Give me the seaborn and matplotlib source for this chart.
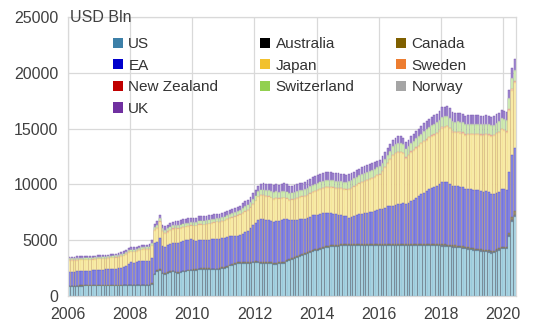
import matplotlib
matplotlib.use("Agg")
import matplotlib.pyplot as plt
import pandas as pd
import seaborn as sns
from matplotlib.patches import Patch

# ---------------- data (USD bn, monthly Jan-2006 .. May-2020) ----------------
start_year = 2006
n_months = 173

us = [
    830, 835, 840, 845, 850, 850, 855, 855, 860, 860, 865, 870,
    870, 870, 875, 875, 880, 880, 880, 880, 880, 885, 890, 890,
    890, 880, 880, 890, 890, 900, 900, 900, 1000, 1850, 2150, 2240,
    1950, 1900, 2000, 2100, 2150, 2050, 2000, 2050, 2150, 2150, 2200, 2230,
    2260, 2280, 2320, 2330, 2340, 2360, 2330, 2320, 2300, 2300, 2340, 2420,
    2450, 2550, 2650, 2700, 2760, 2850, 2870, 2870, 2850, 2850, 2850, 2930,
    2930, 2920, 2870, 2860, 2850, 2880, 2850, 2820, 2820, 2840, 2860, 2900,
    3010, 3100, 3200, 3320, 3400, 3480, 3560, 3650, 3720, 3840, 3950, 4010,
    4050, 4150, 4200, 4280, 4330, 4380, 4380, 4400, 4410, 4450, 4470, 4500,
    4490, 4490, 4480, 4480, 4480, 4500, 4480, 4480, 4490, 4480, 4490, 4480,
    4480, 4480, 4470, 4480, 4470, 4460, 4460, 4460, 4470, 4450, 4460, 4450,
    4480, 4480, 4480, 4480, 4480, 4460, 4460, 4460, 4460, 4460, 4450, 4440,
    4420, 4410, 4390, 4360, 4330, 4310, 4290, 4260, 4220, 4180, 4140, 4080,
    4040, 4020, 3990, 3960, 3930, 3900, 3880, 3800, 3840, 3950, 4050, 4170,
    4170, 4180, 5300, 6600, 7050]

australia = [
    50, 50, 50, 52, 52, 52, 53, 53, 53, 54, 54, 55,
    55, 55, 56, 56, 57, 57, 58, 58, 60, 60, 62, 65,
    65, 66, 66, 67, 68, 70, 70, 72, 80, 95, 90, 85,
    80, 78, 76, 75, 74, 74, 73, 72, 72, 72, 73, 74,
    74, 75, 75, 76, 76, 77, 77, 78, 78, 79, 79, 80,
    80, 81, 81, 82, 82, 83, 83, 84, 84, 85, 85, 86,
    86, 86, 87, 87, 88, 88, 89, 89, 90, 90, 91, 91,
    91, 92, 92, 93, 93, 94, 94, 95, 95, 96, 96, 97,
    97, 98, 98, 99, 99, 100, 100, 101, 101, 102, 102, 103,
    103, 104, 104, 105, 105, 106, 106, 107, 107, 108, 108, 109,
    109, 110, 110, 111, 111, 112, 112, 113, 113, 114, 114, 115,
    115, 116, 116, 117, 117, 118, 118, 119, 119, 120, 120, 121,
    121, 122, 122, 123, 123, 124, 124, 125, 125, 126, 126, 127,
    127, 127, 128, 128, 128, 129, 129, 129, 130, 130, 130, 131,
    131, 132, 150, 180, 200]

canada = [
    42, 42, 43, 43, 43, 44, 44, 44, 45, 45, 45, 46,
    46, 46, 47, 47, 47, 48, 48, 48, 49, 49, 50, 50,
    50, 50, 51, 51, 52, 52, 52, 53, 60, 70, 75, 72,
    65, 62, 60, 58, 57, 56, 56, 55, 55, 56, 57, 58,
    58, 59, 60, 61, 62, 63, 64, 65, 66, 67, 68, 69,
    70, 70, 71, 71, 72, 72, 73, 73, 74, 74, 75, 75,
    76, 76, 77, 77, 78, 78, 79, 79, 80, 80, 81, 81,
    81, 82, 82, 83, 83, 84, 84, 85, 85, 86, 86, 87,
    87, 87, 86, 86, 85, 85, 84, 84, 83, 82, 82, 81,
    80, 79, 79, 78, 78, 78, 79, 79, 80, 80, 81, 81,
    82, 82, 83, 83, 84, 84, 85, 85, 86, 86, 87, 87,
    88, 88, 89, 89, 90, 90, 91, 91, 92, 92, 93, 93,
    93, 93, 93, 92, 92, 92, 92, 91, 91, 91, 91, 90,
    90, 90, 90, 91, 91, 91, 92, 92, 92, 93, 93, 94,
    94, 95, 160, 280, 340]

ea = [
    1230, 1240, 1250, 1270, 1280, 1290, 1300, 1310, 1320, 1330, 1340, 1360,
    1380, 1390, 1400, 1420, 1440, 1450, 1470, 1500, 1550, 1600, 1700, 1850,
    2000, 2000, 2050, 2100, 2150, 2150, 2150, 2150, 2250, 2700, 2550, 2800,
    2400, 2350, 2400, 2450, 2500, 2600, 2650, 2650, 2650, 2700, 2700, 2750,
    2600, 2550, 2600, 2550, 2500, 2500, 2550, 2600, 2650, 2700, 2600, 2600,
    2600, 2600, 2550, 2500, 2450, 2400, 2450, 2550, 2700, 2850, 3050, 3300,
    3450, 3750, 3900, 3850, 3800, 3750, 3700, 3650, 3750, 3700, 3750, 3800,
    3700, 3500, 3400, 3300, 3250, 3200, 3150, 3100, 3100, 3100, 3100, 3100,
    3050, 3050, 3050, 3000, 2950, 2850, 2800, 2750, 2700, 2650, 2550, 2450,
    2350, 2400, 2500, 2600, 2650, 2700, 2750, 2800, 2850, 2900, 2950, 3050,
    3100, 3150, 3250, 3350, 3400, 3450, 3500, 3550, 3600, 3650, 3550, 3700,
    3850, 3950, 4100, 4250, 4450, 4600, 4750, 4950, 5050, 5100, 5200, 5400,
    5600, 5550, 5600, 5500, 5300, 5300, 5350, 5300, 5300, 5200, 5250, 5300,
    5250, 5250, 5250, 5200, 5200, 5250, 5200, 5150, 5100, 5100, 5050, 5150,
    5150, 5100, 5500, 5600, 5700]

japan = [
    1000, 990, 980, 970, 960, 950, 950, 945, 940, 940, 940, 940,
    920, 920, 930, 930, 940, 940, 950, 960, 970, 980, 990, 1010,
    910, 920, 930, 940, 950, 970, 980, 990, 1050, 1100, 1150, 1400,
    1200, 1150, 1150, 1150, 1170, 1190, 1180, 1180, 1170, 1160, 1150, 1150,
    1250, 1270, 1300, 1330, 1360, 1400, 1410, 1420, 1430, 1450, 1460, 1480,
    1490, 1520, 1560, 1620, 1700, 1750, 1770, 1790, 1800, 1800, 1800, 1800,
    1930, 2000, 2050, 2100, 2080, 2060, 2020, 2000, 1980, 1950, 1900, 1870,
    1780, 1760, 1800, 1850, 1900, 1930, 1950, 1970, 1990, 2000, 2020, 2050,
    2120, 2150, 2180, 2200, 2230, 2270, 2280, 2290, 2300, 2310, 2330, 2350,
    2500, 2530, 2580, 2620, 2680, 2750, 2780, 2820, 2860, 2900, 2950, 3000,
    3030, 3300, 3550, 3800, 4100, 4450, 4550, 4620, 4550, 4400, 4100, 4150,
    4300, 4350, 4400, 4420, 4450, 4520, 4500, 4520, 4550, 4600, 4650, 4680,
    4770, 4850, 4900, 4850, 4800, 4740, 4750, 4780, 4800, 4780, 4820, 4830,
    4920, 4950, 4980, 5000, 5020, 5040, 5080, 5120, 5150, 5200, 5250, 5300,
    5200, 5130, 5480, 5750, 5800]

sweden = [
    30, 30, 30, 30, 31, 31, 31, 31, 32, 32, 32, 33,
    33, 33, 33, 34, 34, 34, 35, 35, 35, 36, 36, 37,
    37, 38, 38, 39, 39, 40, 40, 42, 55, 75, 80, 78,
    85, 88, 90, 92, 90, 85, 80, 75, 70, 65, 60, 55,
    50, 50, 48, 47, 46, 46, 45, 45, 45, 46, 46, 47,
    47, 48, 48, 49, 49, 50, 50, 50, 51, 51, 52, 52,
    52, 53, 53, 54, 54, 55, 55, 56, 56, 57, 57, 58,
    58, 58, 59, 59, 60, 60, 60, 61, 61, 62, 62, 62,
    62, 62, 61, 61, 60, 60, 60, 59, 59, 58, 58, 58,
    60, 62, 64, 66, 68, 70, 72, 74, 76, 78, 80, 82,
    84, 85, 86, 87, 88, 89, 90, 90, 91, 91, 92, 92,
    93, 93, 94, 94, 95, 95, 96, 96, 97, 97, 98, 98,
    98, 98, 97, 97, 96, 96, 95, 95, 94, 94, 93, 93,
    92, 92, 91, 91, 90, 90, 89, 89, 88, 88, 88, 88,
    88, 89, 100, 110, 115]

new_zealand = [
    14, 14, 14, 14, 15, 15, 15, 15, 15, 15, 15, 15,
    15, 15, 15, 16, 16, 16, 16, 16, 16, 16, 16, 16,
    16, 16, 16, 16, 16, 16, 16, 16, 17, 18, 18, 18,
    18, 18, 18, 18, 18, 18, 18, 19, 19, 19, 19, 19,
    19, 19, 19, 19, 19, 19, 20, 20, 20, 20, 20, 20,
    20, 20, 20, 21, 21, 21, 21, 21, 21, 21, 22, 22,
    22, 22, 22, 22, 22, 22, 22, 23, 23, 23, 23, 23,
    23, 23, 23, 24, 24, 24, 24, 24, 24, 24, 24, 24,
    24, 24, 24, 25, 25, 25, 25, 25, 25, 25, 25, 25,
    25, 25, 25, 26, 26, 26, 26, 26, 26, 26, 26, 26,
    26, 27, 27, 27, 27, 27, 27, 27, 28, 28, 28, 28,
    28, 28, 28, 29, 29, 29, 29, 30, 30, 30, 30, 30,
    30, 30, 31, 31, 31, 30, 30, 30, 30, 30, 30, 30,
    30, 30, 30, 31, 31, 31, 31, 31, 31, 32, 32, 32,
    32, 32, 33, 35, 38]

switzerland = [
    115, 115, 116, 116, 117, 117, 118, 118, 118, 119, 119, 120,
    120, 121, 121, 122, 122, 123, 123, 124, 125, 126, 127, 128,
    130, 132, 134, 135, 136, 137, 138, 140, 150, 170, 180, 190,
    195, 200, 205, 210, 215, 220, 225, 228, 230, 232, 235, 240,
    240, 250, 260, 270, 290, 300, 280, 270, 265, 270, 275, 280,
    285, 290, 295, 300, 305, 310, 320, 380, 400, 390, 380, 380,
    385, 390, 400, 410, 440, 480, 500, 520, 530, 530, 540, 540,
    540, 535, 535, 530, 530, 525, 530, 535, 540, 545, 550, 550,
    550, 550, 555, 555, 555, 550, 550, 550, 545, 540, 540, 560,
    600, 620, 620, 630, 640, 640, 640, 640, 630, 630, 620, 620,
    620, 630, 640, 650, 660, 670, 680, 690, 700, 710, 700, 700,
    710, 720, 730, 740, 760, 780, 800, 810, 820, 830, 840, 850,
    860, 860, 850, 840, 830, 820, 820, 820, 810, 810, 800, 800,
    800, 800, 800, 810, 810, 820, 830, 840, 840, 850, 860, 870,
    880, 890, 900, 920, 930]

norway = [
    50, 50, 50, 50, 51, 51, 51, 51, 52, 52, 52, 52,
    52, 53, 53, 53, 54, 54, 55, 55, 55, 56, 56, 56,
    56, 57, 57, 57, 58, 58, 58, 59, 60, 62, 62, 62,
    62, 62, 62, 62, 62, 62, 63, 63, 63, 64, 64, 65,
    65, 65, 65, 65, 65, 65, 66, 66, 66, 66, 66, 66,
    66, 67, 67, 67, 68, 68, 68, 68, 69, 69, 70, 70,
    70, 71, 71, 72, 72, 72, 72, 73, 73, 74, 74, 74,
    75, 75, 75, 76, 76, 76, 77, 77, 77, 78, 78, 78,
    78, 79, 79, 79, 80, 80, 80, 80, 80, 80, 80, 80,
    80, 80, 80, 80, 80, 80, 81, 81, 81, 82, 82, 82,
    82, 82, 82, 83, 83, 83, 84, 84, 84, 85, 85, 86,
    86, 86, 87, 87, 88, 88, 88, 89, 89, 90, 90, 90,
    90, 90, 89, 89, 88, 88, 88, 88, 87, 87, 87, 87,
    87, 87, 88, 88, 88, 88, 88, 88, 88, 89, 89, 90,
    90, 90, 92, 94, 95]

uk = [
    150, 150, 150, 152, 152, 154, 155, 155, 156, 157, 158, 160,
    160, 162, 164, 165, 166, 168, 170, 172, 180, 185, 190, 200,
    200, 200, 205, 210, 210, 210, 210, 200, 280, 330, 350, 330,
    340, 330, 300, 310, 330, 340, 370, 380, 380, 380, 390, 390,
    390, 380, 380, 380, 370, 370, 380, 380, 385, 390, 390, 390,
    390, 390, 390, 390, 390, 390, 400, 410, 420, 450, 470, 480,
    500, 520, 540, 560, 570, 590, 610, 620, 630, 640, 650, 660,
    640, 620, 610, 620, 630, 630, 630, 650, 660, 670, 680, 680,
    680, 690, 690, 690, 690, 700, 700, 690, 680, 670, 660, 650,
    640, 630, 620, 610, 610, 620, 620, 620, 610, 610, 600, 600,
    590, 580, 580, 580, 580, 570, 560, 580, 590, 580, 600, 610,
    620, 640, 660, 680, 700, 720, 730, 740, 760, 770, 780, 800,
    820, 830, 830, 820, 810, 800, 790, 780, 770, 770, 760, 760,
    760, 760, 760, 760, 760, 760, 740, 740, 740, 750, 750, 760,
    770, 760, 780, 900, 950]

series = {
    "US": us, "Australia": australia, "Canada": canada, "EA": ea,
    "Japan": japan, "Sweden": sweden, "New Zealand": new_zealand,
    "Switzerland": switzerland, "Norway": norway, "UK": uk,
}
stack_order = ["US", "Australia", "Canada", "EA", "Japan", "Sweden",
               "New Zealand", "Switzerland", "Norway", "UK"]
legend_order = ["US", "EA", "New Zealand", "UK",
                "Australia", "Japan", "Switzerland",
                "Canada", "Sweden", "Norway"]

for k, v in series.items():
    assert len(v) == n_months, (k, len(v))

# ---------------- styling ----------------
base = {"US": "#3d80a8", "Australia": "#000000", "Canada": "#7f6000",
        "EA": "#0000cc", "Japan": "#f2c12e", "Sweden": "#ed7d31",
        "New Zealand": "#c00000", "Switzerland": "#92d050",
        "Norway": "#a5a5a5", "UK": "#7030a0"}
face = {"US": "#b6dde7", "Australia": "#7a8a9a", "Canada": "#9a9070",
        "EA": "#8e8ee6", "Japan": "#f9efb4", "Sweden": "#f5d0b0",
        "New Zealand": "#e8b0a8", "Switzerland": "#d6edbc",
        "Norway": "#cccccc", "UK": "#a28ad2"}
edge = {"US": "#72acc8", "Australia": "#5a6a7a", "Canada": "#7a7050",
        "EA": "#5050cc", "Japan": "#f0d872", "Sweden": "#f0c090",
        "New Zealand": "#e0a090", "Switzerland": "#b2dc8a",
        "Norway": "#b0b0b0", "UK": "#7452ac"}

sns.set_theme(style="whitegrid")
plt.rcParams["font.family"] = ["Liberation Sans", "DejaVu Sans"]

df = pd.DataFrame(series)
df["x"] = [start_year + i // 12 + (i % 12 + 0.5) / 12 for i in range(n_months)]
cum = df[stack_order].cumsum(axis=1)

fig = plt.figure(figsize=(5.35, 3.28), dpi=100)
ax = fig.add_axes([68 / 535, 1 - 296 / 328, 448 / 535, 279 / 328])
ax.set_axisbelow(True)

for name in reversed(stack_order):
    sns.barplot(x=df["x"], y=cum[name], native_scale=True, color=face[name],
                saturation=1, edgecolor=edge[name], linewidth=0.3,
                width=0.72, errorbar=None, ax=ax)

ax.set_xlim(2006, 2020.42)
ax.set_ylim(0, 25000)
ax.set_xticks(list(range(2006, 2021, 2)))
ax.set_xticklabels([str(y) for y in range(2006, 2021, 2)])
ax.set_yticks(list(range(0, 25001, 5000)))
ax.set_xlabel("")
ax.set_ylabel("")
ax.grid(True, color="#d9d9d9", linewidth=0.9)
for sp in ax.spines.values():
    sp.set_color("#d9d9d9")
    sp.set_linewidth(0.9)
ax.tick_params(axis="both", labelsize=11.5, labelcolor="#404040", length=0)
ax.tick_params(axis="x", pad=8)
ax.tick_params(axis="y", pad=7)

fig.text(70 / 535, 1 - 18 / 328, "USD Bln", fontsize=11.5, color="#404040",
         ha="left", va="center")

handles = [Patch(facecolor=base[n], edgecolor="none") for n in legend_order]
fig.legend(handles, legend_order, loc="upper left",
           bbox_to_anchor=(113 / 535, 1 - 37 / 328), ncol=3, frameon=False,
           fontsize=11, labelcolor="#333333", handlelength=0.65,
           handleheight=0.65, handletextpad=0.35, labelspacing=0.5,
           columnspacing=2.75, borderpad=0, borderaxespad=0)

fig.savefig("out.png", dpi=100)
